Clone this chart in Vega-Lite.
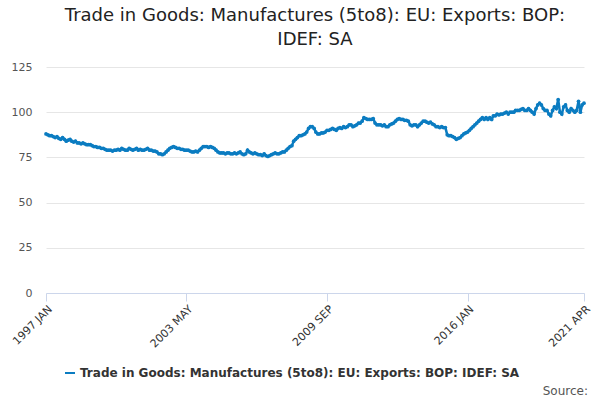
{
  "$schema": "https://vega.github.io/schema/vega-lite/v6.json",
  "width": 538,
  "height": 226,
  "autosize": "none",
  "padding": {"left": 46, "top": 67, "right": 16, "bottom": 107},
  "title": {"text": ["Trade in Goods: Manufactures (5to8): EU: Exports: BOP:", "IDEF: SA"], "fontSize": 18, "fontWeight": "normal", "font": "DejaVu Sans", "color": "#222", "anchor": "middle", "offset": 12, "lineHeight": 24},
  "config": {"view": {"stroke": null}, "font": "DejaVu Sans"},
  "data": {"values": [
{"d":"1997-01-01","v":88},{"d":"1997-02-01","v":87.5},{"d":"1997-03-01","v":87},{"d":"1997-04-01","v":87},{"d":"1997-05-01","v":86.5},{"d":"1997-06-01","v":86},{"d":"1997-07-01","v":86.5},{"d":"1997-08-01","v":85.5},{"d":"1997-09-01","v":85},{"d":"1997-10-01","v":86},{"d":"1997-11-01","v":85},{"d":"1997-12-01","v":84},
{"d":"1998-01-01","v":84.5},{"d":"1998-02-01","v":85},{"d":"1998-03-01","v":84},{"d":"1998-04-01","v":83.5},{"d":"1998-05-01","v":84},{"d":"1998-06-01","v":83},{"d":"1998-07-01","v":83},{"d":"1998-08-01","v":82.5},{"d":"1998-09-01","v":83},{"d":"1998-10-01","v":82.5},{"d":"1998-11-01","v":82},{"d":"1998-12-01","v":82},
{"d":"1999-01-01","v":82},{"d":"1999-02-01","v":81.5},{"d":"1999-03-01","v":81},{"d":"1999-04-01","v":81},{"d":"1999-05-01","v":80.5},{"d":"1999-06-01","v":80.5},{"d":"1999-07-01","v":80},{"d":"1999-08-01","v":80},{"d":"1999-09-01","v":79.5},{"d":"1999-10-01","v":79},{"d":"1999-11-01","v":79},{"d":"1999-12-01","v":79},
{"d":"2000-01-01","v":78.5},{"d":"2000-02-01","v":79},{"d":"2000-03-01","v":79},{"d":"2000-04-01","v":79.5},{"d":"2000-05-01","v":79},{"d":"2000-06-01","v":80},{"d":"2000-07-01","v":79.5},{"d":"2000-08-01","v":79},{"d":"2000-09-01","v":79},{"d":"2000-10-01","v":80},{"d":"2000-11-01","v":79.5},{"d":"2000-12-01","v":79},
{"d":"2001-01-01","v":79.5},{"d":"2001-02-01","v":80},{"d":"2001-03-01","v":79},{"d":"2001-04-01","v":79.5},{"d":"2001-05-01","v":79},{"d":"2001-06-01","v":79},{"d":"2001-07-01","v":79.5},{"d":"2001-08-01","v":80},{"d":"2001-09-01","v":79},{"d":"2001-10-01","v":79},{"d":"2001-11-01","v":78.5},{"d":"2001-12-01","v":78.5},
{"d":"2002-01-01","v":78},{"d":"2002-02-01","v":77},{"d":"2002-03-01","v":77},{"d":"2002-04-01","v":76.5},{"d":"2002-05-01","v":77},{"d":"2002-06-01","v":78},{"d":"2002-07-01","v":79},{"d":"2002-08-01","v":80},{"d":"2002-09-01","v":80.5},{"d":"2002-10-01","v":81},{"d":"2002-11-01","v":80.5},{"d":"2002-12-01","v":80},
{"d":"2003-01-01","v":80},{"d":"2003-02-01","v":79.5},{"d":"2003-03-01","v":79.5},{"d":"2003-04-01","v":79},{"d":"2003-05-01","v":79},{"d":"2003-06-01","v":79},{"d":"2003-07-01","v":78.5},{"d":"2003-08-01","v":78},{"d":"2003-09-01","v":78},{"d":"2003-10-01","v":78.5},{"d":"2003-11-01","v":78},{"d":"2003-12-01","v":79},
{"d":"2004-01-01","v":80},{"d":"2004-02-01","v":81},{"d":"2004-03-01","v":81},{"d":"2004-04-01","v":81},{"d":"2004-05-01","v":80.5},{"d":"2004-06-01","v":81},{"d":"2004-07-01","v":80.5},{"d":"2004-08-01","v":80},{"d":"2004-09-01","v":79},{"d":"2004-10-01","v":78},{"d":"2004-11-01","v":77.5},{"d":"2004-12-01","v":77.5},
{"d":"2005-01-01","v":77.5},{"d":"2005-02-01","v":77},{"d":"2005-03-01","v":77.5},{"d":"2005-04-01","v":77.5},{"d":"2005-05-01","v":77},{"d":"2005-06-01","v":77},{"d":"2005-07-01","v":77.5},{"d":"2005-08-01","v":77},{"d":"2005-09-01","v":77.5},{"d":"2005-10-01","v":78},{"d":"2005-11-01","v":77},{"d":"2005-12-01","v":76.5},
{"d":"2006-01-01","v":77},{"d":"2006-02-01","v":79},{"d":"2006-03-01","v":78},{"d":"2006-04-01","v":77.5},{"d":"2006-05-01","v":77},{"d":"2006-06-01","v":77.5},{"d":"2006-07-01","v":77},{"d":"2006-08-01","v":76.5},{"d":"2006-09-01","v":76.5},{"d":"2006-10-01","v":76},{"d":"2006-11-01","v":77},{"d":"2006-12-01","v":76},
{"d":"2007-01-01","v":75.5},{"d":"2007-02-01","v":76},{"d":"2007-03-01","v":76.5},{"d":"2007-04-01","v":77},{"d":"2007-05-01","v":77.5},{"d":"2007-06-01","v":77},{"d":"2007-07-01","v":77},{"d":"2007-08-01","v":77.5},{"d":"2007-09-01","v":78},{"d":"2007-10-01","v":78},{"d":"2007-11-01","v":79},{"d":"2007-12-01","v":80},
{"d":"2008-01-01","v":81},{"d":"2008-02-01","v":81.5},{"d":"2008-03-01","v":84},{"d":"2008-04-01","v":85},{"d":"2008-05-01","v":86},{"d":"2008-06-01","v":87},{"d":"2008-07-01","v":87},{"d":"2008-08-01","v":87.5},{"d":"2008-09-01","v":88},{"d":"2008-10-01","v":89},{"d":"2008-11-01","v":91},{"d":"2008-12-01","v":92},
{"d":"2009-01-01","v":92},{"d":"2009-02-01","v":91},{"d":"2009-03-01","v":89},{"d":"2009-04-01","v":88},{"d":"2009-05-01","v":88},{"d":"2009-06-01","v":88.5},{"d":"2009-07-01","v":88.5},{"d":"2009-08-01","v":89},{"d":"2009-09-01","v":90},{"d":"2009-10-01","v":90},{"d":"2009-11-01","v":90.5},{"d":"2009-12-01","v":91},
{"d":"2010-01-01","v":90.5},{"d":"2010-02-01","v":90},{"d":"2010-03-01","v":91},{"d":"2010-04-01","v":91.5},{"d":"2010-05-01","v":91},{"d":"2010-06-01","v":92},{"d":"2010-07-01","v":91.5},{"d":"2010-08-01","v":92},{"d":"2010-09-01","v":93},{"d":"2010-10-01","v":93},{"d":"2010-11-01","v":92},{"d":"2010-12-01","v":92.5},
{"d":"2011-01-01","v":93},{"d":"2011-02-01","v":94},{"d":"2011-03-01","v":94},{"d":"2011-04-01","v":95},{"d":"2011-05-01","v":97},{"d":"2011-06-01","v":96.5},{"d":"2011-07-01","v":96},{"d":"2011-08-01","v":96},{"d":"2011-09-01","v":96},{"d":"2011-10-01","v":96.5},{"d":"2011-11-01","v":94},{"d":"2011-12-01","v":93},
{"d":"2012-01-01","v":93},{"d":"2012-02-01","v":93},{"d":"2012-03-01","v":92.5},{"d":"2012-04-01","v":93},{"d":"2012-05-01","v":92},{"d":"2012-06-01","v":92},{"d":"2012-07-01","v":93},{"d":"2012-08-01","v":93.5},{"d":"2012-09-01","v":94},{"d":"2012-10-01","v":95},{"d":"2012-11-01","v":96},{"d":"2012-12-01","v":96.5},
{"d":"2013-01-01","v":96},{"d":"2013-02-01","v":96},{"d":"2013-03-01","v":95.5},{"d":"2013-04-01","v":95.5},{"d":"2013-05-01","v":95},{"d":"2013-06-01","v":93},{"d":"2013-07-01","v":92.5},{"d":"2013-08-01","v":93},{"d":"2013-09-01","v":93},{"d":"2013-10-01","v":92},{"d":"2013-11-01","v":93},{"d":"2013-12-01","v":94},
{"d":"2014-01-01","v":95},{"d":"2014-02-01","v":95},{"d":"2014-03-01","v":94.5},{"d":"2014-04-01","v":94},{"d":"2014-05-01","v":94.5},{"d":"2014-06-01","v":93.5},{"d":"2014-07-01","v":93},{"d":"2014-08-01","v":92},{"d":"2014-09-01","v":92},{"d":"2014-10-01","v":91.5},{"d":"2014-11-01","v":92},{"d":"2014-12-01","v":91.5},
{"d":"2015-01-01","v":91.5},{"d":"2015-02-01","v":87.5},{"d":"2015-03-01","v":87},{"d":"2015-04-01","v":87},{"d":"2015-05-01","v":86.5},{"d":"2015-06-01","v":86},{"d":"2015-07-01","v":85},{"d":"2015-08-01","v":85.5},{"d":"2015-09-01","v":86},{"d":"2015-10-01","v":87},{"d":"2015-11-01","v":88},{"d":"2015-12-01","v":88.5},
{"d":"2016-01-01","v":89},{"d":"2016-02-01","v":90},{"d":"2016-03-01","v":91},{"d":"2016-04-01","v":92},{"d":"2016-05-01","v":93},{"d":"2016-06-01","v":94},{"d":"2016-07-01","v":95},{"d":"2016-08-01","v":96},{"d":"2016-09-01","v":97},{"d":"2016-10-01","v":96},{"d":"2016-11-01","v":97},{"d":"2016-12-01","v":96},
{"d":"2017-01-01","v":97},{"d":"2017-02-01","v":96},{"d":"2017-03-01","v":98},{"d":"2017-04-01","v":98},{"d":"2017-05-01","v":99},{"d":"2017-06-01","v":98.5},{"d":"2017-07-01","v":99},{"d":"2017-08-01","v":99},{"d":"2017-09-01","v":99.5},{"d":"2017-10-01","v":100},{"d":"2017-11-01","v":99},{"d":"2017-12-01","v":100},
{"d":"2018-01-01","v":100},{"d":"2018-02-01","v":100},{"d":"2018-03-01","v":101},{"d":"2018-04-01","v":101},{"d":"2018-05-01","v":101},{"d":"2018-06-01","v":101.5},{"d":"2018-07-01","v":102},{"d":"2018-08-01","v":101},{"d":"2018-09-01","v":101},{"d":"2018-10-01","v":102},{"d":"2018-11-01","v":101},{"d":"2018-12-01","v":100},
{"d":"2019-01-01","v":99},{"d":"2019-02-01","v":102},{"d":"2019-03-01","v":104},{"d":"2019-04-01","v":105},{"d":"2019-05-01","v":104},{"d":"2019-06-01","v":102},{"d":"2019-07-01","v":101},{"d":"2019-08-01","v":101},{"d":"2019-09-01","v":99},{"d":"2019-10-01","v":98},{"d":"2019-11-01","v":101},{"d":"2019-12-01","v":103},
{"d":"2020-01-01","v":102},{"d":"2020-02-01","v":107},{"d":"2020-03-01","v":100},{"d":"2020-04-01","v":99},{"d":"2020-05-01","v":103},{"d":"2020-06-01","v":104},{"d":"2020-07-01","v":101},{"d":"2020-08-01","v":100},{"d":"2020-09-01","v":102},{"d":"2020-10-01","v":101},{"d":"2020-11-01","v":100},{"d":"2020-12-01","v":101},
{"d":"2021-01-01","v":106},{"d":"2021-02-01","v":100},{"d":"2021-03-01","v":104},{"d":"2021-04-01","v":105}
  ]},
  "layer": [
    {
      "mark": {"type": "line", "strokeWidth": 2.5, "point": {"size": 14, "filled": true}},
      "encoding": {
        "x": {"field": "d", "type": "temporal", "title": null,
          "scale": {"domain": [{"year": 1997, "month": 1, "date": 1}, {"year": 2021, "month": 4, "date": 1}]},
          "axis": {"values": [{"year": 1997, "month": 1, "date": 1}, {"year": 2003, "month": 5, "date": 1}, {"year": 2009, "month": 9, "date": 1}, {"year": 2016, "month": 1, "date": 1}, {"year": 2021, "month": 4, "date": 1}],
            "labelExpr": "upper(timeFormat(datum.value, '%Y %b'))", "labelAngle": -45, "labelAlign": "right", "labelFontSize": 11, "labelColor": "#333",
            "grid": false, "domainColor": "#ccd6eb", "tickColor": "#ccd6eb", "tickSize": 8, "labelFlush": false}},
        "y": {"field": "v", "type": "quantitative", "title": null,
          "scale": {"domain": [0, 125]},
          "axis": {"values": [0, 25, 50, 75, 100, 125], "domain": false, "ticks": false, "gridColor": "#e6e6e6", "labelColor": "#555", "labelFontSize": 11, "labelPadding": 14}},
        "color": {"datum": "Trade in Goods: Manufactures (5to8): EU: Exports: BOP: IDEF: SA", "type": "nominal", "scale": {"range": ["#0b7cc1"]},
          "legend": {"orient": "none", "legendX": 18, "legendY": 300, "title": null, "labelFontSize": 12, "labelFontWeight": "bold", "labelColor": "#333", "symbolType": "stroke", "symbolStrokeWidth": 2, "labelLimit": 600}}
      }
    },
    {
      "data": {"values": [{"t": "Source:"}]},
      "mark": {"type": "text", "align": "right", "baseline": "middle", "fontSize": 12, "color": "#555", "clip": false, "dx": 4},
      "encoding": {
        "x": {"datum": {"year": 2021, "month": 4, "date": 1}, "type": "temporal"},
        "y": {"datum": -54, "type": "quantitative", "scale": {"domain": [0, 125]}},
        "text": {"field": "t"}
      }
    }
  ]
}
